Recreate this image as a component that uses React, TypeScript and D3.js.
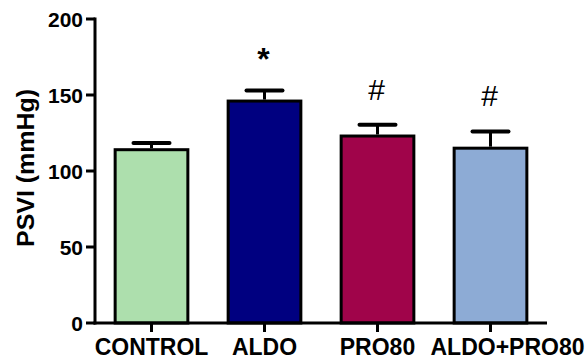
import * as React from 'react'
import * as d3 from 'd3'

const groups = ['CONTROL', 'ALDO', 'PRO80', 'ALDO+PRO80']
const means = [115, 147, 124, 116]
const errors = [3.5, 6, 6.5, 10]
const marks = ['', '*', '#', '#']
const colors = ['#addfad', '#000080', '#a0044a', '#8dabd5']
const yTicks = [0, 50, 100, 150, 200]

const W = 587
const H = 361
const FONT = '"Liberation Sans", Arial, Helvetica, sans-serif'

export default function App() {
  const ref = React.useRef<SVGSVGElement>(null)

  React.useEffect(() => {
    const svg = d3.select(ref.current)
    svg.selectAll('*').remove()

    const left = 95
    const right = 547
    const top = 19
    const bottom = 323

    const x = d3.scaleBand().domain(groups).range([left, right]).paddingInner(0.33).paddingOuter(0.165)
    const y = d3.scaleLinear().domain([0, 200]).range([bottom, top])
    const cx = (g: string) => x(g)! + x.bandwidth() / 2

    const data = groups.map((g, i) => ({ g, mean: means[i], err: errors[i], mark: marks[i], color: colors[i] }))

    // error bars (drawn first, bars cover the lower half)
    const eb = svg.append('g')
    eb.selectAll('line.err')
      .data(data)
      .enter()
      .append('line')
      .attr('x1', (d) => cx(d.g))
      .attr('x2', (d) => cx(d.g))
      .attr('y1', (d) => y(d.mean))
      .attr('y2', (d) => y(d.mean + d.err))
      .attr('stroke', '#000')
      .attr('stroke-width', 3)
    eb.selectAll('line.cap')
      .data(data)
      .enter()
      .append('line')
      .attr('x1', (d) => cx(d.g) - 18)
      .attr('x2', (d) => cx(d.g) + 18)
      .attr('y1', (d) => y(d.mean + d.err))
      .attr('y2', (d) => y(d.mean + d.err))
      .attr('stroke', '#000')
      .attr('stroke-width', 4)
      .attr('stroke-linecap', 'round')

    // bars
    svg.append('g')
      .selectAll('rect')
      .data(data)
      .enter()
      .append('rect')
      .attr('x', (d) => x(d.g)! + 1.5)
      .attr('width', x.bandwidth() - 3)
      .attr('y', (d) => y(d.mean) + 1.5)
      .attr('height', (d) => bottom - y(d.mean) - 1.5)
      .attr('fill', (d) => d.color)
      .attr('stroke', '#000')
      .attr('stroke-width', 3)

    // significance marks
    svg.append('g')
      .selectAll('text')
      .data(data.filter((d) => d.mark))
      .enter()
      .append('text')
      .attr('x', (d) => cx(d.g) - 1)
      .attr('y', (d) => y(d.mean + d.err) - (d.mark === '*' ? 20 : 25))
      .attr('text-anchor', 'middle')
      .attr('font-family', FONT)
      .attr('font-weight', (d) => (d.mark === '*' ? 'bold' : 'normal'))
      .attr('font-size', (d) => (d.mark === '*' ? 32 : 30))
      .attr('fill', '#000')
      .text((d) => d.mark)

    // y axis
    const ya = svg.append('g')
    ya.append('line')
      .attr('x1', left).attr('x2', left)
      .attr('y1', top - 1.5).attr('y2', bottom + 1.5)
      .attr('stroke', '#000').attr('stroke-width', 3)
    ya.selectAll('line.tick')
      .data(yTicks)
      .enter()
      .append('line')
      .attr('x1', left - 9).attr('x2', left)
      .attr('y1', (d) => y(d)).attr('y2', (d) => y(d))
      .attr('stroke', '#000').attr('stroke-width', 3)
    ya.selectAll('text')
      .data(yTicks)
      .enter()
      .append('text')
      .attr('x', left - 12)
      .attr('y', (d) => y(d) + 7.5)
      .attr('text-anchor', 'end')
      .attr('font-family', FONT)
      .attr('font-weight', 'bold')
      .attr('font-size', 21)
      .attr('fill', '#000')
      .text((d) => d)

    // y label
    svg.append('text')
      .attr('transform', `translate(34, 168) rotate(-90)`)
      .attr('text-anchor', 'middle')
      .attr('font-family', FONT)
      .attr('font-weight', 'bold')
      .attr('font-size', 23)
      .attr('textLength', 158)
      .attr('lengthAdjust', 'spacingAndGlyphs')
      .attr('fill', '#000')
      .text('PSVI (mmHg)')

    // x axis
    const xa = svg.append('g')
    xa.append('line')
      .attr('x1', left - 1.5).attr('x2', right)
      .attr('y1', bottom).attr('y2', bottom)
      .attr('stroke', '#000').attr('stroke-width', 3)
    xa.selectAll('line.tick')
      .data(groups)
      .enter()
      .append('line')
      .attr('x1', (d) => cx(d))
      .attr('x2', (d) => cx(d))
      .attr('y1', bottom).attr('y2', bottom + 9)
      .attr('stroke', '#000').attr('stroke-width', 3)
    xa.selectAll('text')
      .data(groups)
      .enter()
      .append('text')
      .attr('x', (d) => cx(d))
      .attr('dx', (d, i) => (i === groups.length - 1 ? 17 : 0))
      .attr('y', 355)
      .attr('text-anchor', 'middle')
      .attr('font-family', FONT)
      .attr('font-weight', 'bold')
      .attr('font-size', 23)
      .attr('fill', '#000')
      .text((d) => d)
  }, [])

  return (
    <svg
      ref={ref}
      width={W}
      height={H}
      style={{ position: 'absolute', left: 0, top: 0, background: '#fff' }}
    />
  )
}
